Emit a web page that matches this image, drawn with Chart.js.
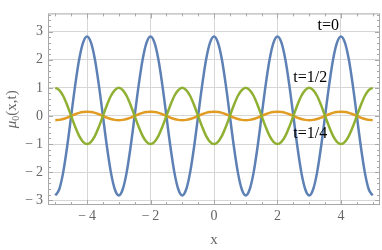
<!DOCTYPE html>
<html>
<head>
<meta charset="utf-8">
<script src="https://cdn.jsdelivr.net/npm/chart.js@4.4.0/dist/chart.umd.min.js"></script>
<style>
  body { margin: 0; background: #fff; }
</style>
</head>
<body>
<canvas id="myChart" width="382" height="250"></canvas>
<script>
let xValues = [-5, -4.875, -4.75, -4.625, -4.5, -4.375, -4.25, -4.125,
  -4, -3.875, -3.75, -3.625, -3.5, -3.375, -3.25, -3.125,
  -3, -2.875, -2.75, -2.625, -2.5, -2.375, -2.25, -2.125,
  -2, -1.875, -1.75, -1.625, -1.5, -1.375, -1.25, -1.125,
  -1, -0.875, -0.75, -0.625, -0.5, -0.375, -0.25, -0.125,
  0, 0.125, 0.25, 0.375, 0.5, 0.625, 0.75, 0.875,
  1, 1.125, 1.25, 1.375, 1.5, 1.625, 1.75, 1.875,
  2, 2.125, 2.25, 2.375, 2.5, 2.625, 2.75, 2.875,
  3, 3.125, 3.25, 3.375, 3.5, 3.625, 3.75, 3.875,
  4, 4.125, 4.25, 4.375, 4.5, 4.625, 4.75, 4.875, 5];
let muT0 = [-2.83, -2.61, -2.00, -1.08, 0, 1.08, 2.00, 2.61, 2.83, 2.61, 2.00, 1.08, 0, -1.08, -2.00, -2.61,
  -2.83, -2.61, -2.00, -1.08, 0, 1.08, 2.00, 2.61, 2.83, 2.61, 2.00, 1.08, 0, -1.08, -2.00, -2.61,
  -2.83, -2.61, -2.00, -1.08, 0, 1.08, 2.00, 2.61, 2.83, 2.61, 2.00, 1.08, 0, -1.08, -2.00, -2.61,
  -2.83, -2.61, -2.00, -1.08, 0, 1.08, 2.00, 2.61, 2.83, 2.61, 2.00, 1.08, 0, -1.08, -2.00, -2.61,
  -2.83, -2.61, -2.00, -1.08, 0, 1.08, 2.00, 2.61, 2.83, 2.61, 2.00, 1.08, 0, -1.08, -2.00, -2.61,
  -2.83];
let muT14 = [-0.15, -0.14, -0.11, -0.06, 0, 0.06, 0.11, 0.14, 0.15, 0.14, 0.11, 0.06, 0, -0.06, -0.11, -0.14,
  -0.15, -0.14, -0.11, -0.06, 0, 0.06, 0.11, 0.14, 0.15, 0.14, 0.11, 0.06, 0, -0.06, -0.11, -0.14,
  -0.15, -0.14, -0.11, -0.06, 0, 0.06, 0.11, 0.14, 0.15, 0.14, 0.11, 0.06, 0, -0.06, -0.11, -0.14,
  -0.15, -0.14, -0.11, -0.06, 0, 0.06, 0.11, 0.14, 0.15, 0.14, 0.11, 0.06, 0, -0.06, -0.11, -0.14,
  -0.15, -0.14, -0.11, -0.06, 0, 0.06, 0.11, 0.14, 0.15, 0.14, 0.11, 0.06, 0, -0.06, -0.11, -0.14,
  -0.15];
let muT12 = [1.00, 0.92, 0.71, 0.38, 0, -0.38, -0.71, -0.92, -1.00, -0.92, -0.71, -0.38, 0, 0.38, 0.71, 0.92,
  1.00, 0.92, 0.71, 0.38, 0, -0.38, -0.71, -0.92, -1.00, -0.92, -0.71, -0.38, 0, 0.38, 0.71, 0.92,
  1.00, 0.92, 0.71, 0.38, 0, -0.38, -0.71, -0.92, -1.00, -0.92, -0.71, -0.38, 0, 0.38, 0.71, 0.92,
  1.00, 0.92, 0.71, 0.38, 0, -0.38, -0.71, -0.92, -1.00, -0.92, -0.71, -0.38, 0, 0.38, 0.71, 0.92,
  1.00, 0.92, 0.71, 0.38, 0, -0.38, -0.71, -0.92, -1.00, -0.92, -0.71, -0.38, 0, 0.38, 0.71, 0.92,
  1.00];
let xTicks = [-4, -2, 0, 2, 4];
let yTicks = [-3, -2, -1, 0, 1, 2, 3];
let curveLabels = ['t=0', 't=1/4', 't=1/2'];
let labelX = [3.6, 3.03, 3.03];
let labelY = [3.2, -0.65, 1.37];

const serif = '"Liberation Serif", "DejaVu Serif", serif';

function toPoints(ys) {
    return xValues.map((x, i) => ({ x: x, y: ys[i] }));
}

function fmt(v) {
    return v < 0 ? '\u2212\u2009' + Math.abs(v) : String(v);
}

// frame with inward ticks, curve labels and axis titles
const decorations = {
    id: 'decorations',
    afterDraw(chart) {
        const { ctx, chartArea: a, scales } = chart;
        const sx = scales.x, sy = scales.y;
        ctx.save();
        ctx.strokeStyle = '#a8a8a8';
        ctx.lineWidth = 1;
        ctx.strokeRect(a.left + 0.5, a.top + 0.5, a.right - a.left - 1, a.bottom - a.top - 1);
        ctx.beginPath();
        for (let v = -5; v <= 5.001; v += 0.5) {
            const px = Math.round(sx.getPixelForValue(v)) + 0.5;
            const len = xTicks.includes(Math.round(v * 10) / 10) ? 5 : 3;
            ctx.moveTo(px, a.bottom); ctx.lineTo(px, a.bottom - len);
            ctx.moveTo(px, a.top); ctx.lineTo(px, a.top + len);
        }
        for (let k = -15; k <= 18; k++) {
            const v = k / 5;
            const py = Math.round(sy.getPixelForValue(v)) + 0.5;
            const len = (k % 5 === 0) ? 5 : 3;
            ctx.moveTo(a.left, py); ctx.lineTo(a.left + len, py);
            ctx.moveTo(a.right, py); ctx.lineTo(a.right - len, py);
        }
        ctx.stroke();

        ctx.fillStyle = '#000';
        ctx.font = '16px ' + serif;
        ctx.textAlign = 'center';
        ctx.textBaseline = 'middle';
        curveLabels.forEach((t, i) => {
            ctx.fillText(t, sx.getPixelForValue(labelX[i]), sy.getPixelForValue(labelY[i]));
        });

        ctx.fillStyle = '#666';
        ctx.font = '15px ' + serif;
        ctx.fillText('x', (a.left + a.right) / 2, 240);

        // y title: mu_0(x,t)
        ctx.translate(12, (a.top + a.bottom) / 2);
        ctx.rotate(-Math.PI / 2);
        const f1 = 'italic 15px ' + serif, f2 = '10px ' + serif, f3 = '15px ' + serif;
        ctx.font = f1; const w1 = ctx.measureText('\u03bc').width;
        ctx.font = f2; const w2 = ctx.measureText('0').width;
        ctx.font = f3; const w3 = ctx.measureText('(x,t)').width;
        let px = -(w1 + w2 + w3) / 2;
        ctx.textAlign = 'left';
        ctx.font = f1; ctx.fillText('\u03bc', px, 0); px += w1;
        ctx.font = f2; ctx.fillText('0', px, 4); px += w2;
        ctx.font = f3; ctx.fillText('(x,t)', px, 0);
        ctx.restore();
    }
};

const ctx = document.getElementById('myChart').getContext('2d');
const myChart = new Chart(ctx, {
    type: 'line',
    data: {
        datasets: [
            {
                label: 't=0',
                data: toPoints(muT0),
                borderColor: '#5e81b5',
                order: 3,
            },
            {
                label: 't=1/4',
                data: toPoints(muT14),
                borderColor: '#e19c24',
                order: 2,
            },
            {
                label: 't=1/2',
                data: toPoints(muT12),
                borderColor: '#8fb032',
                order: 1,
            },
        ]
    },
    options: {
        responsive: false,
        animation: false,
        layout: { padding: { top: 1, right: 2 } },
        elements: {
            point: { radius: 0 },
            line: { borderWidth: 2.5, cubicInterpolationMode: 'monotone', fill: false }
        },
        plugins: {
            legend: { display: false },
            tooltip: { enabled: false }
        },
        scales: {
            x: {
                type: 'linear',
                min: -5.23,
                max: 5.23,
                afterBuildTicks: s => { s.ticks = xTicks.map(v => ({ value: v })); },
                afterFit: s => { s.height = 45; },
                grid: { color: '#d6d6d6', drawTicks: false },
                border: { display: false },
                ticks: { callback: fmt, color: '#666', font: { family: serif, size: 14 }, padding: 3, maxRotation: 0, autoSkip: false }
            },
            y: {
                min: -3.17,
                max: 3.65,
                afterBuildTicks: s => { s.ticks = yTicks.map(v => ({ value: v })); },
                afterFit: s => { s.width = 48; },
                grid: { color: '#d6d6d6', drawTicks: false },
                border: { display: false },
                ticks: { callback: fmt, color: '#666', font: { family: serif, size: 14 }, padding: 5, autoSkip: false }
            }
        }
    },
    plugins: [decorations]
});
</script>
</body>
</html>
